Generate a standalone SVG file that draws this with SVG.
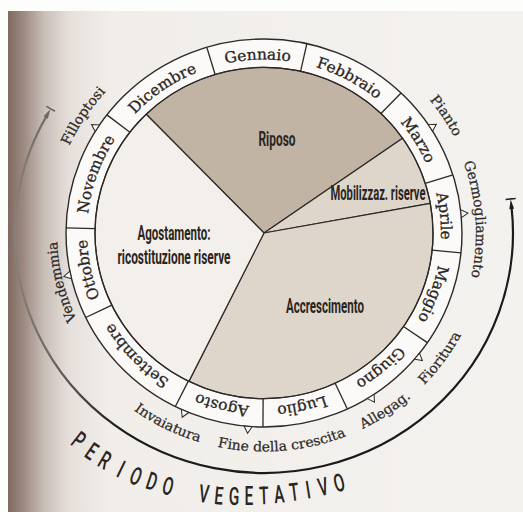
<svg xmlns="http://www.w3.org/2000/svg" width="523" height="512" viewBox="0 0 523 512">
  <style>
    .ring{fill:#fbfaf8;stroke:#2d2926;stroke-width:1.4}
    .edge{fill:none;stroke:#2d2926;stroke-width:1.3}
    .wedge{stroke:#2d2926;stroke-width:1.2;stroke-linejoin:round}
    .div{stroke:#2d2926;stroke-width:1.3}
    .mark{fill:#fbfaf8;stroke:#2d2926;stroke-width:1}
    .month{font-family:"DejaVu Serif","Liberation Serif",serif;font-size:15.5px;fill:#2a2522;stroke:#2a2522;stroke-width:0.3;text-anchor:middle}
    .event{font-family:"DejaVu Serif","Liberation Serif",serif;font-size:14px;fill:#2e2926;stroke:#2e2926;stroke-width:0.25;text-anchor:middle}
    .phase{font-family:Roboto,"Liberation Sans",sans-serif;font-size:20px;font-weight:700;fill:#2a2522;text-anchor:middle}
    .period{font-family:Roboto,"Liberation Sans",sans-serif;font-size:25px;font-weight:500;fill:#2a2522;text-anchor:middle}
  </style>
  <defs>
    <linearGradient id="pageShade" gradientUnits="userSpaceOnUse" x1="8" y1="0" x2="523" y2="0">
      <stop offset="0" stop-color="#7f6a60"/>
      <stop offset="0.03" stop-color="#9c8a81"/>
      <stop offset="0.07" stop-color="#c9beb8"/>
      <stop offset="0.12" stop-color="#e6e0dc"/>
      <stop offset="0.2" stop-color="#f1eeea"/>
      <stop offset="1" stop-color="#f4f2ef"/>
    </linearGradient>
    <linearGradient id="arcShade" gradientUnits="userSpaceOnUse" x1="10" y1="0" x2="120" y2="0">
      <stop offset="0" stop-color="#8c827d"/>
      <stop offset="0.4" stop-color="#6e6460"/>
      <stop offset="1" stop-color="#1b1b1b"/>
    </linearGradient>
    <marker id="capDark" viewBox="0 0 12 12" refX="2" refY="6" markerWidth="12" markerHeight="12" markerUnits="userSpaceOnUse" orient="auto-start-reverse">
      <path d="M1,3.6 L10.5,6 L1,8.4 Z" fill="#1b1b1b"/>
      <path d="M11,1 V11" stroke="#1b1b1b" stroke-width="1.6"/>
    </marker>
    <marker id="capGrey" viewBox="0 0 12 12" refX="2" refY="6" markerWidth="12" markerHeight="12" markerUnits="userSpaceOnUse" orient="auto-start-reverse">
      <path d="M1,3.6 L10.5,6 L1,8.4 Z" fill="#6f6561"/>
      <path d="M11,1 V11" stroke="#6f6561" stroke-width="1.6"/>
    </marker>
    <!-- circular baselines, two turns each, starting at the top -->
    <path id="mRing" d="M0,-177 A177,177 0 1 1 0,177 A177,177 0 1 1 0,-177 A177,177 0 1 1 0,177 A177,177 0 1 1 0,-177"/>
    <path id="evOut207" d="M0,-207 A207,207 0 1 1 0,207 A207,207 0 1 1 0,-207 A207,207 0 1 1 0,207 A207,207 0 1 1 0,-207"/>
    <path id="evOut212" d="M0,-212 A212,212 0 1 1 0,212 A212,212 0 1 1 0,-212 A212,212 0 1 1 0,212 A212,212 0 1 1 0,-212"/>
    <path id="evOut214" d="M0,-214 A214,214 0 1 1 0,214 A214,214 0 1 1 0,-214 A214,214 0 1 1 0,214 A214,214 0 1 1 0,-214"/>
    <path id="evIn223" d="M0,-223 A223,223 0 1 0 0,223 A223,223 0 1 0 0,-223 A223,223 0 1 0 0,223 A223,223 0 1 0 0,-223"/>
  </defs>

  <!-- page -->
  <rect x="0" y="0" width="523" height="512" fill="#fdfdfc"/>
  <rect x="8" y="11" width="515" height="501" fill="url(#pageShade)"/>

  <!-- vegetative period arc -->
  <g id="connectors">
    <path d="M511.6,207.9 A249,240 0 1 1 46.2,116.6" fill="none" stroke="url(#arcShade)" stroke-width="2.2" marker-start="url(#capDark)" marker-end="url(#capGrey)"/>
  </g>

  <g transform="translate(264 233) scale(1 0.98)">
    <circle class="ring" r="198"/>

    <g id="phase-riposo"><path class="wedge" fill="#c1b4a5" d="M0,0 L-117.8,-121.2 A169,169 0 0 1 138.6,-96.7 Z"/></g>
    <g id="phase-mobilizzazione"><path class="wedge" fill="#ded5cb" d="M0,0 L138.6,-96.7 A169,169 0 0 1 166.3,-30.2 Z"/></g>
    <g id="phase-accrescimento"><path class="wedge" fill="#ded5cb" d="M0,0 L166.3,-30.2 A169,169 0 0 1 -75.1,151.4 Z"/></g>
    <g id="phase-agostamento"><path class="wedge" fill="#f3efeb" d="M0,0 L-75.1,151.4 A169,169 0 0 1 -117.8,-121.2 Z"/></g>
    <circle class="edge" r="169"/>

    <!-- months -->
    <g id="month-gennaio"><line class="div" y1="-169" y2="-198" transform="rotate(-16.8)"/><text class="month"><textPath href="#mRing" startOffset="1105.5">Gennaio</textPath></text></g>
    <g id="month-febbraio"><line class="div" y1="-169" y2="-198" transform="rotate(12.5)"/><text class="month"><textPath href="#mRing" startOffset="1199.1">Febbraio</textPath></text></g>
    <g id="month-marzo"><line class="div" y1="-169" y2="-198" transform="rotate(43.8)"/><text class="month"><textPath href="#mRing" startOffset="1291.9">Marzo</textPath></text></g>
    <g id="month-aprile"><line class="div" y1="-169" y2="-198" transform="rotate(72.6)"/><text class="month"><textPath href="#mRing" startOffset="1372.4">Aprile</textPath></text></g>
    <g id="month-maggio"><line class="div" y1="-169" y2="-198" transform="rotate(95.9)"/><text class="month"><textPath href="#mRing" startOffset="340.3">Maggio</textPath></text></g>
    <g id="month-giugno"><line class="div" y1="-169" y2="-198" transform="rotate(124.4)"/><text class="month"><textPath href="#mRing" startOffset="431.7">Giugno</textPath></text></g>
    <g id="month-luglio"><line class="div" y1="-169" y2="-198" transform="rotate(155.1)"/><text class="month"><textPath href="#mRing" startOffset="518.1">Luglio</textPath></text></g>
    <g id="month-agosto"><line class="div" y1="-169" y2="-198" transform="rotate(180.3)"/><text class="month"><textPath href="#mRing" startOffset="597.6">Agosto</textPath></text></g>
    <g id="month-settembre"><line class="div" y1="-169" y2="-198" transform="rotate(206.6)"/><text class="month"><textPath href="#mRing" startOffset="696.3">Settembre</textPath></text></g>
    <g id="month-ottobre"><line class="div" y1="-169" y2="-198" transform="rotate(244.2)"/><text class="month"><textPath href="#mRing" startOffset="796.6">Ottobre</textPath></text></g>
    <g id="month-novembre"><line class="div" y1="-169" y2="-198" transform="rotate(271.5)"/><text class="month"><textPath href="#mRing" startOffset="894.3">Novembre</textPath></text></g>
    <g id="month-dicembre"><line class="div" y1="-169" y2="-198" transform="rotate(307.5)"/><text class="month"><textPath href="#mRing" startOffset="1005.1">Dicembre</textPath></text></g>

    <!-- phenological events -->
    <g id="event-pianto"><polygon class="mark" points="-4,-198 4,-198 0,-205" transform="rotate(57.2)"/><text class="event"><textPath href="#evOut214" startOffset="1556.0">Pianto</textPath></text></g>
    <g id="event-germogliamento"><polygon class="mark" points="-4,-198 4,-198 0,-205" transform="rotate(84.3)"/><text class="event"><textPath href="#evOut212" startOffset="1650.3">Germogliamento</textPath></text></g>
    <g id="event-fioritura"><polygon class="mark" points="-4,-198 4,-198 0,-205" transform="rotate(129.4)"/><text class="event"><textPath href="#evIn223" startOffset="910.7">Fioritura</textPath></text></g>
    <g id="event-allegagione"><polygon class="mark" points="-4,-198 4,-198 0,-205" transform="rotate(147.4)"/><text class="event"><textPath href="#evIn223" startOffset="831.7">Allegag.</textPath></text></g>
    <g id="event-fine-crescita"><polygon class="mark" points="-4,-198 4,-198 0,-205" transform="rotate(184.6)"/><text class="event"><textPath href="#evIn223" startOffset="718.9">Fine della crescita</textPath></text></g>
    <g id="event-invaiatura"><polygon class="mark" points="-4,-198 4,-198 0,-205" transform="rotate(203.5)"/><text class="event"><textPath href="#evIn223" startOffset="597.8">Invaiatura</textPath></text></g>
    <g id="event-vendemmia"><polygon class="mark" points="-4,-198 4,-198 0,-205" transform="rotate(257.5)"/><text class="event"><textPath href="#evOut207" startOffset="924.9">Vendemmia</textPath></text></g>
    <g id="event-filloptosi"><polygon class="mark" points="-4,-198 4,-198 0,-205" transform="rotate(302.7)"/><text class="event"><textPath href="#evOut214" startOffset="1133.2">Filloptosi</textPath></text></g>
  </g>

  <!-- phase labels -->
  <g id="labels-phases">
    <text class="phase" x="277" y="146" textLength="37" lengthAdjust="spacingAndGlyphs">Riposo</text>
    <text class="phase" x="378" y="200" textLength="95" lengthAdjust="spacingAndGlyphs">Mobilizzaz. riserve</text>
    <text class="phase" x="174" y="240" textLength="73" lengthAdjust="spacingAndGlyphs">Agostamento:</text>
    <text class="phase" x="174" y="264" textLength="113" lengthAdjust="spacingAndGlyphs">ricostituzione riserve</text>
    <text class="phase" x="325" y="313" textLength="78" lengthAdjust="spacingAndGlyphs">Accrescimento</text>
  </g>

  <!-- PERIODO VEGETATIVO -->
  <g id="label-period">
    <text class="period" transform="translate(73.5 447) rotate(38) scale(0.62 1)">P</text>
    <text class="period" transform="translate(87 458.4) rotate(34) scale(0.62 1)">E</text>
    <text class="period" transform="translate(100.5 467.7) rotate(30) scale(0.62 1)">R</text>
    <text class="period" transform="translate(117.1 477) rotate(26) scale(0.62 1)">I</text>
    <text class="period" transform="translate(132.7 484.3) rotate(22) scale(0.62 1)">O</text>
    <text class="period" transform="translate(149.3 489.5) rotate(18) scale(0.62 1)">D</text>
    <text class="period" transform="translate(165.8 494.6) rotate(14) scale(0.62 1)">O</text>
    <text class="period" transform="translate(202.9 502.3) rotate(7) scale(0.62 1)">V</text>
    <text class="period" transform="translate(218.2 504.4) rotate(5) scale(0.62 1)">E</text>
    <text class="period" transform="translate(233.7 504.9) rotate(2) scale(0.62 1)">G</text>
    <text class="period" transform="translate(249 504.9) rotate(0) scale(0.62 1)">E</text>
    <text class="period" transform="translate(264.3 504.4) rotate(-2) scale(0.62 1)">T</text>
    <text class="period" transform="translate(279.8 502.9) rotate(-5) scale(0.62 1)">A</text>
    <text class="period" transform="translate(295.1 500.8) rotate(-7) scale(0.62 1)">T</text>
    <text class="period" transform="translate(309.4 498.3) rotate(-9) scale(0.62 1)">I</text>
    <text class="period" transform="translate(324.9 495.2) rotate(-12) scale(0.62 1)">V</text>
    <text class="period" transform="translate(341.2 491.1) rotate(-14) scale(0.62 1)">O</text>
  </g>
</svg>
